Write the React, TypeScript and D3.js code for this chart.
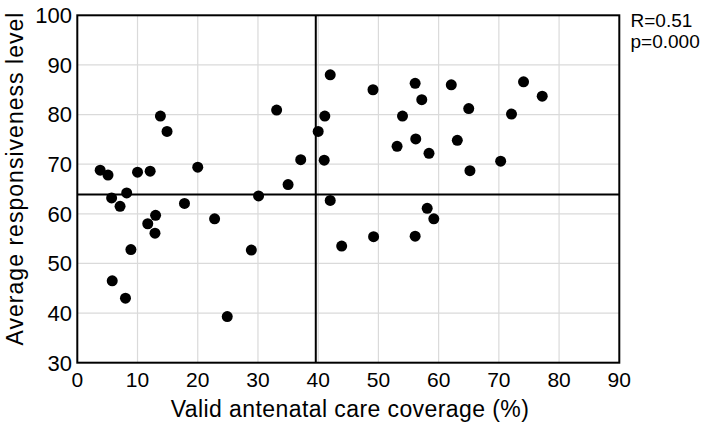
import React from "react";
import * as d3 from "d3";

// Valid antenatal care coverage (%) per unit
const coverage: number[] = [
  3.8, 5.1, 5.7, 5.8, 7.1, 8.0, 8.2, 8.9, 10.0, 11.7, 12.1, 12.9, 13.0, 13.8, 14.9,
  17.8, 20.0, 22.8, 24.9, 28.9, 30.1, 33.1, 35.0, 37.1, 40.0, 41.1, 41.0, 42.0, 42.0,
  43.9, 49.1, 49.2, 53.1, 54.0, 56.1, 56.2, 56.1, 57.2, 58.1, 58.4, 59.2, 62.1, 63.1,
  65.0, 65.2, 70.3, 72.1, 74.1, 77.2,
];

// Average responsiveness level per unit (same order as coverage)
const responsiveness: number[] = [
  68.8, 67.8, 63.2, 46.5, 61.5, 43.0, 64.2, 52.8, 68.4, 58.0, 68.6, 56.1, 59.7, 79.7, 76.6,
  62.1, 69.4, 59.0, 39.3, 52.7, 63.6, 80.9, 65.9, 70.9, 76.6, 79.7, 70.8, 88.0, 62.7,
  53.5, 85.0, 55.4, 73.6, 79.7, 86.3, 75.1, 55.5, 83.0, 61.1, 72.2, 59.0, 86.0, 74.8,
  81.2, 68.7, 70.6, 80.1, 86.6, 83.7,
];

const xTicks: number[] = [0, 10, 20, 30, 40, 50, 60, 70, 80, 90];
const yTicks: number[] = [30, 40, 50, 60, 70, 80, 90, 100];

// Reference lines (means of the two variables)
const meanCoverage = 39.6;
const meanResponsiveness = 63.9;

const statLines: string[] = ["R=0.51", "p=0.000"];
const xTitle = "Valid antenatal care coverage (%)";
const yTitle = "Average responsiveness level";

const W = 719;
const H = 425;
const margin = { left: 77.3, right: 719 - 619.3, top: 15.3, bottom: 425 - 362.7 };
const FONT = "'Liberation Sans', Arial, Helvetica, sans-serif";

export default function App() {
  const x = d3.scaleLinear().domain([0, 90]).range([margin.left, W - margin.right]);
  const y = d3.scaleLinear().domain([30, 100]).range([H - margin.bottom, margin.top]);
  const points = coverage.map((c, i) => ({ c, r: responsiveness[i] }));

  return (
    <svg
      width={W}
      height={H}
      style={{ position: "absolute", left: 0, top: 0, background: "#fff" }}
      fontFamily={FONT}
    >
      {/* grid */}
      <g stroke="#dadada" strokeWidth={1.2}>
        {xTicks.slice(1, -1).map((t) => (
          <line key={"gx" + t} x1={x(t)} x2={x(t)} y1={y(30)} y2={y(100)} />
        ))}
        {yTicks.slice(1, -1).map((t) => (
          <line key={"gy" + t} x1={x(0)} x2={x(90)} y1={y(t)} y2={y(t)} />
        ))}
      </g>

      {/* mean reference lines */}
      <g stroke="#000" strokeWidth={2}>
        <line x1={x(meanCoverage)} x2={x(meanCoverage)} y1={y(30)} y2={y(100)} />
        <line x1={x(0)} x2={x(90)} y1={y(meanResponsiveness)} y2={y(meanResponsiveness)} />
      </g>

      {/* points */}
      <g fill="#000">
        {points.map((p, i) => (
          <circle key={i} cx={x(p.c)} cy={y(p.r)} r={5.5} />
        ))}
      </g>

      {/* frame */}
      <rect
        x={x(0)}
        y={y(100)}
        width={x(90) - x(0)}
        height={y(30) - y(100)}
        fill="none"
        stroke="#000"
        strokeWidth={2}
      />

      {/* x tick labels */}
      <g fontSize={21} textAnchor="middle" fill="#000">
        {xTicks.map((t) => (
          <text key={"xt" + t} x={x(t)} y={387}>
            {t}
          </text>
        ))}
      </g>

      {/* y tick labels */}
      <g fontSize={22} textAnchor="end" fill="#000">
        {yTicks.map((t) => (
          <text key={"yt" + t} x={72} y={y(t)} dy="0.36em">
            {t}
          </text>
        ))}
      </g>

      {/* axis titles */}
      <text
        x={(x(0) + x(90)) / 2 + 1.5}
        y={417}
        fontSize={23}
        textAnchor="middle"
        textLength={358}
        lengthAdjust="spacing"
      >
        {xTitle}
      </text>
      <text
        transform={`translate(23, ${(y(30) + y(100)) / 2 - 10}) rotate(-90)`}
        fontSize={23}
        textAnchor="middle"
        textLength={333}
        lengthAdjust="spacing"
      >
        {yTitle}
      </text>

      {/* statistics */}
      <g fontSize={19} fill="#000">
        {statLines.map((s, i) => (
          <text key={s} x={630.5} y={27 + i * 21}>
            {s}
          </text>
        ))}
      </g>
    </svg>
  );
}
